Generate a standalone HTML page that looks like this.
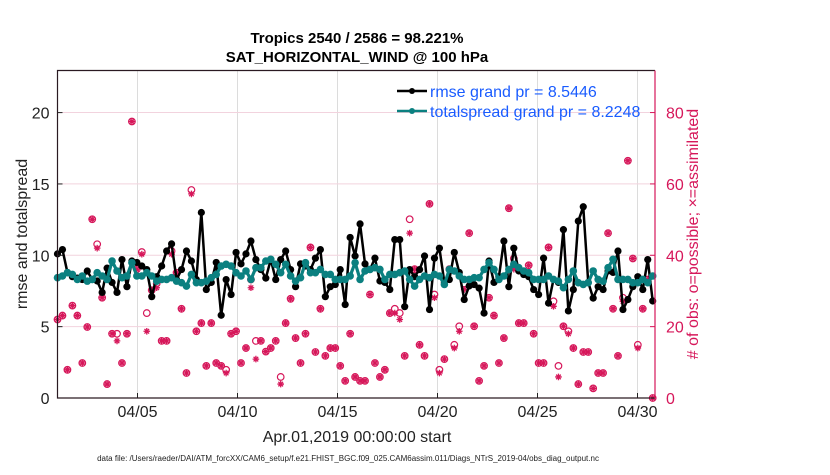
<!DOCTYPE html>
<html><head><meta charset="utf-8"><style>
body{margin:0;background:#fff;width:830px;height:470px;overflow:hidden}
svg text{font-family:"Liberation Sans",Helvetica,Arial,sans-serif}
</style></head><body>
<svg id="chart" width="830" height="470" viewBox="0 0 830 470" xmlns="http://www.w3.org/2000/svg">
<rect x="0" y="0" width="830" height="470" fill="#fff"/>
<text x="357" y="43" text-anchor="middle" font-size="15" font-weight="bold" fill="#000">Tropics 2540 / 2586 = 98.221%</text>
<text x="357" y="62" text-anchor="middle" font-size="15" font-weight="bold" fill="#000">SAT_HORIZONTAL_WIND @ 100 hPa</text>
<g id="grid"></g>
<g id="marks"></g>
<g id="axes"></g>
<g id="legend">
<line x1="397" y1="91" x2="427" y2="91" stroke="#000" stroke-width="2.5"/>
<circle cx="412" cy="91" r="3" fill="#000"/>
<text x="430" y="97" font-size="16" fill="#1a5cff">rmse grand pr = 8.5446</text>
<line x1="397" y1="111" x2="427" y2="111" stroke="#0b8080" stroke-width="2.5"/>
<circle cx="412" cy="111" r="3" fill="#0b8080"/>
<text x="430" y="117" font-size="16" fill="#1a5cff">totalspread grand pr = 8.2248</text>
</g>
<text transform="translate(27,234) rotate(-90)" text-anchor="middle" font-size="16" fill="#222">rmse and totalspread</text>
<text transform="translate(698,234) rotate(-90)" text-anchor="middle" font-size="16" fill="#d6175a"># of obs: o=possible; ×=assimilated</text>
<text x="357" y="442" text-anchor="middle" font-size="16" fill="#222">Apr.01,2019 00:00:00 start</text>
<text x="348" y="461" text-anchor="middle" font-size="8" fill="#222">data file: /Users/raeder/DAI/ATM_forcXX/CAM6_setup/f.e21.FHIST_BGC.f09_025.CAM6assim.011/Diags_NTrS_2019-04/obs_diag_output.nc</text>
</svg>
<script>
const rmse=[10.1,10.4,8.8,8.5,8.4,8.3,8.9,8.3,8.2,7.4,9.1,8.1,7.4,9.7,7.8,9.6,9.5,9.25,9.0,7.1,8.5,9.25,10.3,10.8,8.3,9.0,10.3,9.6,8.3,13.0,7.6,8.1,9.5,5.8,8.3,7.25,10.2,9.4,10.1,11.0,9.7,
9.0,8.4,9.7,8.3,9.7,10.3,9.0,7.8,9.4,9.25,9.0,9.8,10.4,7.1,7.8,7.95,9.0,6.55,11.25,9.95,12.2,9.4,9.0,9.8,8.2,8.1,7.6,11.1,11.1,6.4,9.0,8.5,9.0,9.95,6.2,9.8,10.5,8.1,8.3,10.2,8.8,
6.9,7.85,7.95,7.7,5.95,9.6,8.1,8.5,11.0,7.8,10.5,8.9,8.65,8.5,7.6,7.25,9.8,6.65,8.3,8.1,11.8,6.1,7.6,12.4,13.4,8.1,7.0,7.8,7.6,8.9,8.8,10.3,6.2,6.9,7.8,8.5,7.6,9.7,6.8];
const spread=[8.43,8.55,8.78,8.66,8.31,8.55,8.19,8.31,8.78,8.55,8.31,9.6,8.9,8.43,8.55,9.48,8.55,8.55,8.78,8.55,8.19,8.31,8.31,8.43,8.19,8.08,7.84,8.66,8.08,8.08,8.19,8.43,8.66,9.25,9.37,9.25,8.78,8.55,8.9,8.31,9.13,
9.13,9.6,9.72,9.37,8.78,9.37,8.55,8.19,8.43,9.48,8.78,8.78,9.01,8.66,8.66,8.31,8.31,8.31,8.55,9.48,8.31,8.9,9.01,9.13,9.01,8.31,8.66,8.66,8.78,8.9,8.31,7.84,8.31,8.55,8.43,8.66,8.55,7.96,9.01,8.9,8.55,
8.31,8.31,8.43,8.43,9.01,9.48,9.01,8.31,8.55,9.01,9.37,9.13,8.9,8.78,8.31,8.31,8.31,8.55,8.31,8.19,7.73,8.31,8.9,8.08,7.96,8.08,8.9,8.31,8.19,9.13,9.72,8.31,8.31,8.31,8.08,8.08,8.31,8.08,8.55];
const possible=[22.0,23.1,7.9,25.9,23.1,9.8,19.9,50.1,43.1,28.1,3.9,18.0,18.0,9.8,18.0,77.5,36.1,40.9,23.8,30.2,32.1,16.0,16.0,41.2,35.1,25.0,7.0,58.3,18.7,21.0,9.0,21.0,9.8,9.0,7.9,18.0,18.7,9.8,14.0,33.2,16.0,16.0,
13.0,14.0,16.0,5.9,21.0,27.8,16.8,9.8,18.0,42.2,12.9,25.0,11.8,14.0,14.0,9.0,4.8,18.0,5.9,4.8,4.8,29.0,9.8,5.9,7.9,23.8,25.0,23.8,11.8,50.1,36.1,14.9,11.8,54.4,29.0,7.9,10.9,36.1,14.9,20.1,
32.1,46.2,20.1,4.8,9.0,28.1,23.1,9.8,16.8,53.2,39.1,21.0,21.0,37.2,18.0,9.8,9.8,42.2,27.1,9.0,20.1,18.7,14.0,3.9,12.9,12.9,2.7,7.0,7.0,46.2,25.0,11.8,28.1,66.5,39.1,14.9,25.0,33.2,0];
const assimilated=[22.0,23.1,7.9,25.9,23.1,9.8,19.9,50.1,42.0,28.1,3.9,18.0,16.0,9.8,18.0,77.5,36.1,40.3,18.7,30.2,30.9,16.0,16.0,40.3,35.1,25.0,7.0,57.2,18.7,21.0,9.0,21.0,9.8,9.0,7.0,18.0,18.7,9.8,14.0,30.9,10.9,16.0,
13.0,14.0,16.0,3.9,21.0,27.8,16.8,9.8,18.0,42.2,12.9,25.0,11.8,14.0,14.0,9.0,4.8,18.0,5.9,4.8,4.8,29.0,9.8,5.9,7.9,23.8,23.8,22.0,11.8,46.2,36.1,14.9,11.8,54.4,28.1,7.0,10.9,36.1,14.0,18.7,
30.4,46.2,20.1,4.8,9.0,28.1,23.1,9.8,16.8,53.2,36.1,21.0,21.0,37.2,18.0,9.8,9.8,42.2,25.7,5.9,20.1,18.0,14.0,3.9,12.9,12.9,2.7,7.0,7.0,46.2,25.0,11.8,27.1,66.5,39.1,14.0,25.0,33.2,0];
const leftTicks=[0,5,10,15,20];
const rightTicks=[0,20,40,60,80];
const dateTicks=[4,9,14,19,24,29];
const dateLabels=["04/05","04/10","04/15","04/20","04/25","04/30"];
const stepDays=0.248;

const NS="http://www.w3.org/2000/svg";
const L=57.5,R=655,T=70.5,B=398;
function xs(d){return L+d*20;}
function yl(v){return B-v*14.27;}
function yr(c){return B-c*3.568;}
function mk(tag,attrs,parent){const e=document.createElementNS(NS,tag);for(const k in attrs)e.setAttribute(k,attrs[k]);parent.appendChild(e);return e;}
const grid=document.getElementById('grid'),marks=document.getElementById('marks'),axes=document.getElementById('axes');

dateTicks.forEach((d,i)=>{
  const g=mk('line',{x1:xs(d),x2:xs(d),y1:T,y2:B,stroke:'#dcdcdc','stroke-width':1},grid);
  
  
  const t=mk('line',{x1:xs(d),x2:xs(d),y1:B,y2:B-5,stroke:'#222'},axes);
  
  
  const lb=mk('text',{x:xs(d),y:B+19,'text-anchor':'middle','font-size':16,fill:'#222'},axes);
  lb.textContent=dateLabels[i];
  
  
});
rightTicks.forEach(c=>{
  if(c>0){const g=mk('line',{x1:L,x2:R,y1:yr(c),y2:yr(c),stroke:'#f2d3de','stroke-width':1},grid);
  
  }
  const t=mk('line',{x1:R,x2:R-5,y1:yr(c),y2:yr(c),stroke:'#d6175a'},axes);
  
  
  const lb=mk('text',{x:R+11,y:yr(c)+6,'font-size':16,fill:'#d6175a'},axes);
  lb.textContent=c;
  
  
});
leftTicks.forEach(v=>{
  const t=mk('line',{x1:L,x2:L+5,y1:yl(v),y2:yl(v),stroke:'#222'},axes);
  
  
  const lb=mk('text',{x:L-8,y:yl(v)+6,'text-anchor':'end','font-size':16,fill:'#222'},axes);
  lb.textContent=v;
  
  
});
const frame=mk('path',{d:`M${R},${T} L${L},${T} L${L},${B} L${R},${B}`,fill:'none',stroke:'#2a1a22','stroke-width':1.2},axes);


const rax=mk('line',{x1:R,x2:R,y1:T,y2:B,stroke:'#d6175a','stroke-width':1.2},axes);



const PINK='#d6175a';
possible.forEach((c,i)=>{
  const x=xs(i*stepDays);
  const ci=mk('circle',{cx:x,cy:yr(c),r:3.3,fill:'none',stroke:PINK,'stroke-width':1.2},marks);
  
  
});
assimilated.forEach((c,i)=>{
  const x=xs(i*stepDays),y=yr(c),s=3.3,d=s*0.7;
  const p=mk('path',{d:`M${x-s},${y}H${x+s}M${x},${y-s}V${y+s}M${x-d},${y-d}L${x+d},${y+d}M${x-d},${y+d}L${x+d},${y-d}`,stroke:PINK,'stroke-width':1.3},marks);
  
  
});
function series(arr,color,w,r,name){
  const pts=arr.map((v,i)=>xs(i*stepDays)+','+yl(v)).join(' ');
  const pl=mk('polyline',{points:pts,fill:'none',stroke:color,'stroke-width':w,'stroke-linejoin':'round'},marks);
  
  
  arr.forEach((v,i)=>{
    const c=mk('circle',{cx:xs(i*stepDays),cy:yl(v),r:r,fill:color},marks);
    
    
  });
}
series(rmse,'#000',2.5,3.6,'rmse');
series(spread,'#0b8080',3.2,3.8,'totalspread');
</script>
</body></html>
